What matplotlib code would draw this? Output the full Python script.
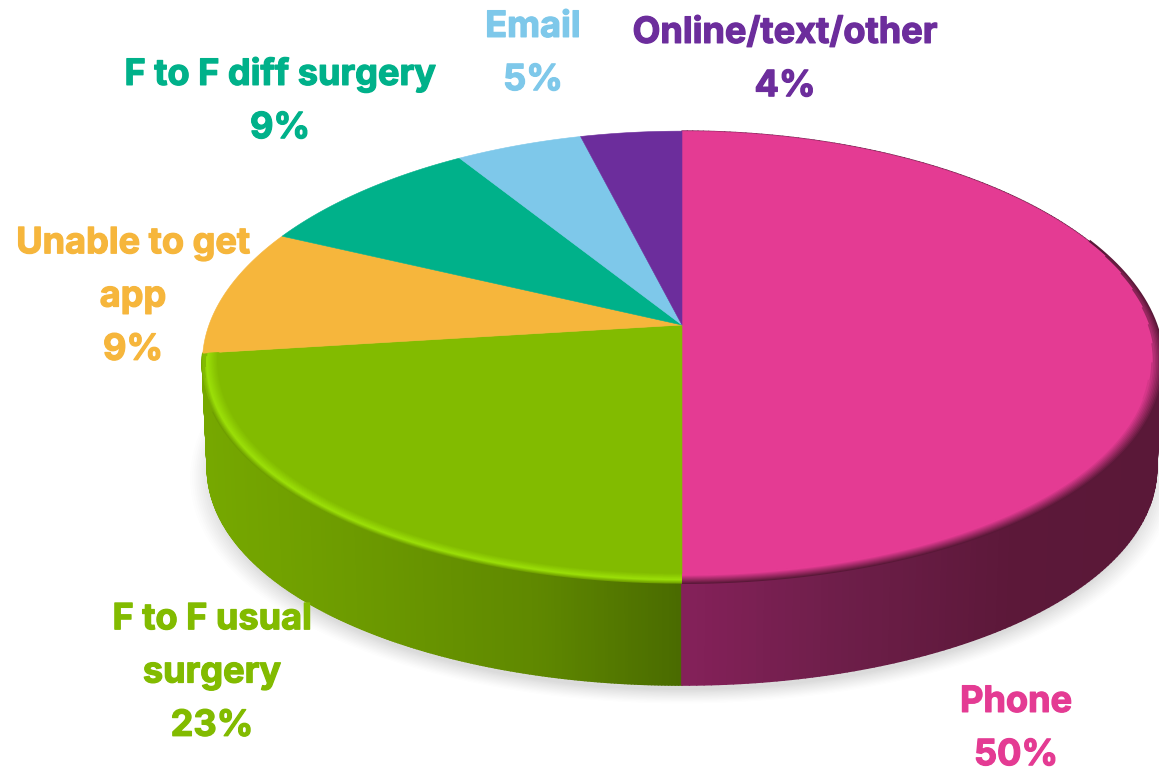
import matplotlib
matplotlib.use("Agg")
import matplotlib.pyplot as plt
from matplotlib.collections import PolyCollection
from matplotlib.colors import LinearSegmentedColormap, to_rgb
import matplotlib.patheffects as pe
import numpy as np

labels = ["Phone", "F to F usual\nsurgery", "Unable to get\napp", "F to F diff surgery", "Email", "Online/text/other"]
values = [50, 23, 9, 9, 5, 4]

colors = ["#e43b93", "#82bb00", "#f6b63c", "#00b18a", "#7ec8ea", "#6c2d9c"]
label_pos = [(1016, 729), (212, 673), (133, 297), (280, 101), (533, 54), (785, 60)]

# pie geometry in picture pixels, slightly perspective
CX, CY = 682, 325
BX, BY = 473, 221
K = 0.14
KX = 0.165
DEPTH = 106
LOW_SCALE = 0.99


def rim(angle, r=1.0, drop=0):
    # angle is clockwise from 12 o'clock, in radians
    xx = r * np.sin(angle)
    yy = r * np.cos(angle)
    return CX + BX * xx / (1 + KX * yy), CY + drop - BY * yy / (1 + K * yy)


def wedge_angles(i, n=120):
    total = sum(values)
    start = sum(values[:i]) / total * 2 * np.pi
    end = sum(values[:i + 1]) / total * 2 * np.pi
    return np.linspace(start, end, n)


def mix(a, b, f):
    a, b = np.array(to_rgb(a)), np.array(to_rgb(b))
    return tuple(a + (b - a) * f)


fig = plt.figure(figsize=(11.59, 7.73), dpi=100)
ax = fig.add_axes([0, 0, 1, 1])
ax.set_xlim(0, 1159)
ax.set_ylim(773, 0)
ax.axis("off")

# soft shadow under the pie
whole = np.linspace(0, 2 * np.pi, 361)
for grow, alpha in zip(np.linspace(1.035, 0.99, 12), np.linspace(0.012, 0.03, 12)):
    sx, sy = rim(whole, LOW_SCALE * grow, DEPTH + 8)
    ax.fill(sx, sy, color="#777777", alpha=alpha, lw=0, zorder=1)

# side wall, shaded along x
green_wall = LinearSegmentedColormap.from_list("g", [(0, "#76a800"), (0.3, "#6d9b00"), (0.7, "#5f8800"), (1, "#4a6b00")])
pink_wall = LinearSegmentedColormap.from_list("p", [(0, "#85215a"), (0.35, "#6d1e49"), (0.7, "#5c1839"), (1, "#5a1838")])


def wall(i, cmap, x0, x1):
    aa = wedge_angles(i, 240)
    tx, ty = rim(aa)
    bx, by = rim(aa, LOW_SCALE, DEPTH)
    polys = []
    cols = []
    for j in range(len(aa) - 1):
        polys.append([(tx[j], ty[j]), (tx[j + 1], ty[j + 1]), (bx[j + 1], by[j + 1]), (bx[j], by[j])])
        cols.append(cmap(np.clip((tx[j] - x0) / (x1 - x0), 0, 1)))
    ax.add_collection(PolyCollection(polys, facecolors=cols, edgecolors=cols, linewidths=1.2, zorder=2))


wall(1, green_wall, 205, 682)
wall(0, pink_wall, 682, 1159)

# top faces
for i in range(len(values)):
    aa = wedge_angles(i)
    xx, yy = rim(aa)
    ax.fill(np.r_[CX, xx], np.r_[CY, yy], color=colors[i], lw=0.4, zorder=3)

# rim bevels, the dark outer bands start earlier so the edge tapers in
aa = wedge_angles(0, 400)
for r, f in zip(np.linspace(1.003, 0.975, 10), np.linspace(0, 1, 10)):
    part = aa[aa > 1.15 + 0.75 * f]
    xx, yy = rim(part, r)
    ax.plot(xx, yy, color=mix("#5a1838", "#e43b93", f), lw=1.6, zorder=4, solid_capstyle="butt")

aa = wedge_angles(1, 400)
for r, f in zip(np.linspace(1.002, 0.968, 16), np.linspace(0, 1, 16)):
    if f < 0.35:
        c = mix("#6f9e00", "#9ce008", f / 0.35)
        part = aa[aa < aa[-1] - 0.25 * (1 - f / 0.35)]
    else:
        c = mix("#9ce008", "#82bb00", (f - 0.35) / 0.65)
        part = aa
    xx, yy = rim(part, r)
    ax.plot(xx, yy, color=c, lw=1.5, zorder=4, solid_capstyle="butt")

# labels
for name, val, col, pos in zip(labels, values, colors, label_pos):
    ax.text(pos[0], pos[1], f"{name}\n{val}%", color=col, ha="center", va="center",
            fontsize=26, fontweight="bold", family="Inter", linespacing=1.78, zorder=6,
            path_effects=[pe.withStroke(linewidth=0.9, foreground=col)])

fig.savefig("out.png", dpi=100)
